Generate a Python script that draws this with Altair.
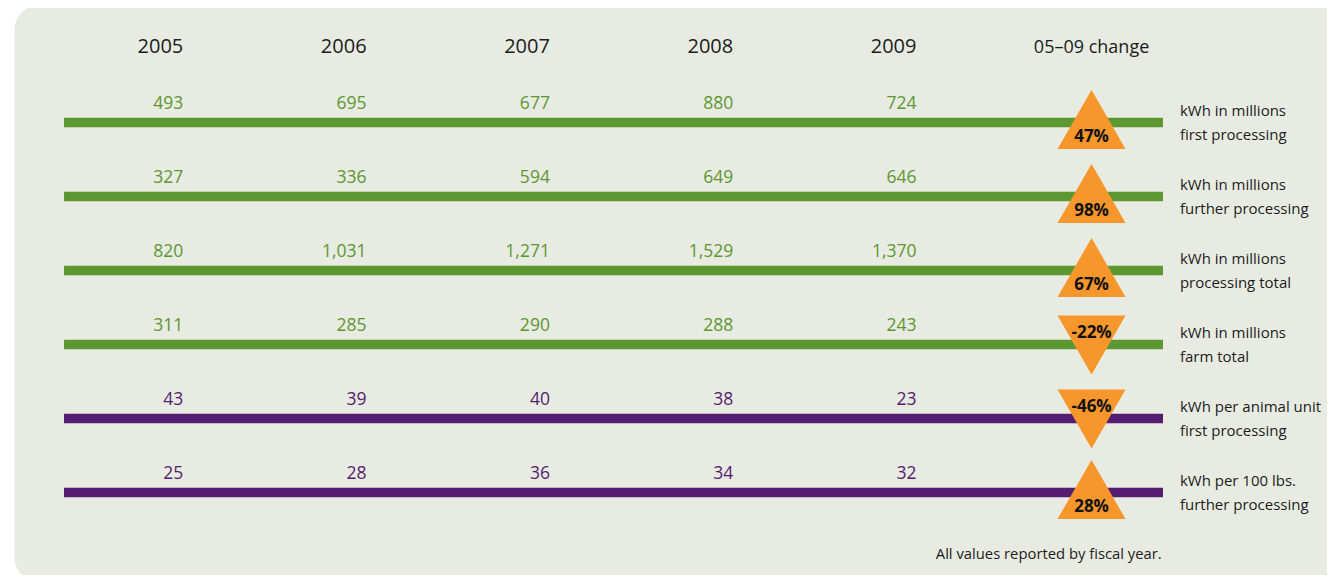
import altair as alt
import pandas as pd

# ---------------- data ----------------
years = ["2005", "2006", "2007", "2008", "2009"]
row_labels = [
    "kWh in millions\nfirst processing",
    "kWh in millions\nfurther processing",
    "kWh in millions\nprocessing total",
    "kWh in millions\nfarm total",
    "kWh per animal unit\nfirst processing",
    "kWh per 100 lbs.\nfurther processing",
]
row_groups = ["total", "total", "total", "total", "intensity", "intensity"]
v2005 = [493, 327, 820, 311, 43, 25]
v2006 = [695, 336, 1031, 285, 39, 28]
v2007 = [677, 594, 1271, 290, 40, 36]
v2008 = [880, 649, 1529, 288, 38, 34]
v2009 = [724, 646, 1370, 243, 23, 32]
changes = [47, 98, 67, -22, -46, 28]
change_header = "05\u201309 change"
footnote = "All values reported by fiscal year."

# ---------------- tables built from the lists ----------------
series = [v2005, v2006, v2007, v2008, v2009]
values_df = pd.DataFrame(
    [
        {"row": r, "col": c, "value": series[c][r], "text": f"{series[c][r]:,}", "group": row_groups[r]}
        for c in range(len(years))
        for r in range(len(row_labels))
    ]
)
rows_df = pd.DataFrame(
    {
        "row": list(range(len(row_labels))),
        "label": row_labels,
        "group": row_groups,
        "change": changes,
        "pct": [f"{c}%" for c in changes],
    }
)
years_df = pd.DataFrame({"col": list(range(len(years))), "year": years})
one = pd.DataFrame({"k": [0]})

# ---------------- layout / style ----------------
W, H = 1319, 567
FONT = "Open Sans"
GREEN = "#5d9732"
PURPLE = "#541d71"
ORANGE = "#f7962a"
PANEL = "#e8ebe1"
INK = "#1c1c1c"

xs = alt.Scale(domain=[-0.9564, 6.2395], nice=False, zero=False)
ys = alt.Scale(domain=[-1.5473, 6.1149], nice=False, zero=False, reverse=True)
color = alt.Color(
    "group:N",
    scale=alt.Scale(domain=["total", "intensity"], range=[GREEN, PURPLE]),
    legend=None,
)

BAR_START, BAR_END = -0.6508, 5.3448
CHANGE_X = 4.955
LABEL_X = 5.437
HEADER_Y = -0.935
FOOT_X, FOOT_Y = 5.338, 5.899

panel = alt.Chart(one).mark_rect(cornerRadius=25, color=PANEL).encode(
    x=alt.value(6.5), x2=alt.value(1400), y=alt.value(-3), y2=alt.value(574)
)

bars = alt.Chart(rows_df).mark_rule(strokeWidth=9.5, strokeCap="butt").encode(
    x=alt.XDatum(BAR_START, type="quantitative", scale=xs, axis=None),
    x2=alt.X2Datum(BAR_END),
    y=alt.Y("row:Q", scale=ys, axis=None),
    color=color,
)

value_text = alt.Chart(values_df).mark_text(
    font=FONT, fontSize=17.5, align="right", baseline="alphabetic", dy=-13.5
).encode(
    x=alt.X("col:Q", scale=xs, axis=None),
    y=alt.Y("row:Q", scale=ys, axis=None),
    text="text:N",
    color=color,
)

year_text = alt.Chart(years_df).mark_text(
    font=FONT, fontSize=20, align="right", baseline="alphabetic", color=INK
).encode(
    x=alt.X("col:Q", scale=xs, axis=None),
    y=alt.YDatum(HEADER_Y, type="quantitative", scale=ys, axis=None),
    text="year:N",
)

change_head = alt.Chart(one).mark_text(
    font=FONT, fontSize=18, align="center", baseline="alphabetic", color=INK, text=change_header
).encode(
    x=alt.XDatum(CHANGE_X, type="quantitative", scale=xs, axis=None),
    y=alt.YDatum(HEADER_Y, type="quantitative", scale=ys, axis=None),
)

tri_up = alt.Chart(rows_df).transform_filter("datum.change >= 0").mark_point(
    shape="triangle-up", size=4624, filled=True, color=ORANGE, opacity=1, strokeWidth=0, yOffset=-3
).encode(
    x=alt.XDatum(CHANGE_X, type="quantitative", scale=xs, axis=None),
    y=alt.Y("row:Q", scale=ys, axis=None),
)

tri_down = alt.Chart(rows_df).transform_filter("datum.change < 0").mark_point(
    shape="triangle-down", size=4624, filled=True, color=ORANGE, opacity=1, strokeWidth=0, yOffset=0.5
).encode(
    x=alt.XDatum(CHANGE_X, type="quantitative", scale=xs, axis=None),
    y=alt.Y("row:Q", scale=ys, axis=None),
)

pct_up = alt.Chart(rows_df).transform_filter("datum.change >= 0").mark_text(
    font=FONT, fontSize=17, fontWeight="bold", align="center", baseline="alphabetic", dy=20, color="#111111"
).encode(
    x=alt.XDatum(CHANGE_X, type="quantitative", scale=xs, axis=None),
    y=alt.Y("row:Q", scale=ys, axis=None),
    text="pct:N",
)

pct_down = alt.Chart(rows_df).transform_filter("datum.change < 0").mark_text(
    font=FONT, fontSize=17, fontWeight="bold", align="center", baseline="alphabetic", dy=-6.6, color="#111111"
).encode(
    x=alt.XDatum(CHANGE_X, type="quantitative", scale=xs, axis=None),
    y=alt.Y("row:Q", scale=ys, axis=None),
    text="pct:N",
)

labels = alt.Chart(rows_df).mark_text(
    font=FONT, fontSize=15, align="left", baseline="alphabetic", dy=-6.5,
    lineBreak="\n", lineHeight=24, color=INK
).encode(
    x=alt.XDatum(LABEL_X, type="quantitative", scale=xs, axis=None),
    y=alt.Y("row:Q", scale=ys, axis=None),
    text="label:N",
)

foot = alt.Chart(one).mark_text(
    font=FONT, fontSize=14.8, align="right", baseline="alphabetic", color=INK, text=footnote
).encode(
    x=alt.XDatum(FOOT_X, type="quantitative", scale=xs, axis=None),
    y=alt.YDatum(FOOT_Y, type="quantitative", scale=ys, axis=None),
)

chart = alt.layer(
    panel, bars, value_text, year_text, change_head, tri_up, tri_down, pct_up, pct_down, labels, foot
).properties(
    width=W, height=H, padding=0, background="white",
    autosize=alt.AutoSizeParams(type="none"),
).configure_view(stroke=None)

chart.save("out.html", embed_options={"renderer": "svg", "actions": False})
